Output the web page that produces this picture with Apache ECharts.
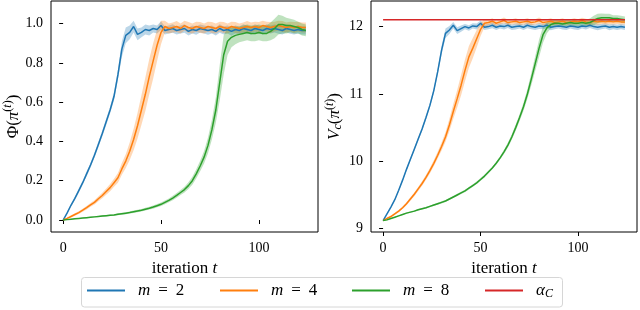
<!DOCTYPE html>
<html><head><meta charset="utf-8">
<script src="https://cdn.jsdelivr.net/npm/echarts@6/dist/echarts.min.js"></script>
<style>html,body{margin:0;padding:0;background:#fff}#c{width:640px;height:310px}</style>
</head><body><div id="c"></div>
<script>
// iteration index (every 2nd iteration)
const T = [0,2,4,6,8,10,12,14,16,18,20,22,24,26,28,30,32,
  34,36,38,40,42,44,46,48,50,52,
  54,56,58,60,62,64,66,68,70,72,
  74,76,78,80,82,84,86,88,90,92,
  94,96,98,100,102,104,106,108,110,112,
  114,116,118,120,122,124];

// Left panel: Phi(pi^(t))
const phiM2 = [0,0.035,0.075,0.11,0.15,0.19,0.235,0.28,0.33,0.385,0.44,0.50,0.56,0.63,0.74,0.87,0.94,
  0.955,0.985,0.945,0.955,0.97,0.965,0.975,0.97,0.99,0.965,
  0.97,0.975,0.965,0.97,0.975,0.96,0.97,0.965,0.975,0.97,
  0.965,0.97,0.96,0.975,0.965,0.97,0.96,0.97,0.965,0.975,
  0.97,0.965,0.975,0.97,0.965,0.975,0.97,0.975,0.97,0.965,
  0.975,0.97,0.965,0.97,0.965,0.965];
const phiM4 = [0,0.008,0.018,0.028,0.038,0.05,0.063,0.077,0.09,0.108,0.125,0.145,0.165,0.19,0.215,0.26,0.30,
  0.35,0.41,0.48,0.56,0.64,0.73,0.81,0.89,0.955,0.985,
  0.975,0.98,0.985,0.975,0.99,0.98,0.975,0.985,0.98,0.975,
  0.985,0.98,0.975,0.985,0.98,0.975,0.985,0.98,0.975,0.98,
  0.985,0.98,0.985,0.98,0.99,0.985,0.98,0.985,0.99,0.985,
  0.98,0.985,0.98,0.985,0.98,0.98];
const phiM8 = [0,0.002,0.004,0.006,0.008,0.01,0.012,0.014,0.016,0.018,0.02,0.022,0.024,0.026,0.029,0.032,0.035,
  0.038,0.042,0.046,0.05,0.055,0.06,0.066,0.073,0.08,0.09,
  0.10,0.112,0.125,0.14,0.155,0.175,0.2,0.235,0.275,0.32,
  0.38,0.46,0.56,0.70,0.84,0.91,0.93,0.94,0.945,0.95,
  0.955,0.95,0.95,0.955,0.95,0.95,0.96,0.975,0.995,0.995,
  0.99,0.99,0.985,0.98,0.97,0.965];
// spread (half band width)
const sPhiM2 = [0,0.005,0.007,0.008,0.01,0.01,0.012,0.012,0.013,0.014,0.015,0.016,0.017,0.02,0.025,0.04,0.04,
  0.035,0.03,0.03,0.025,0.025,0.025,0.02,0.02,0.022,0.02,
  0.02,0.022,0.02,0.02,0.022,0.02,0.02,0.022,0.02,0.02,
  0.022,0.02,0.02,0.022,0.02,0.02,0.022,0.02,0.02,0.022,
  0.02,0.02,0.022,0.02,0.02,0.022,0.02,0.02,0.022,0.02,
  0.02,0.022,0.02,0.02,0.02,0.02];
const sPhiM4 = [0,0.003,0.005,0.006,0.007,0.008,0.009,0.01,0.011,0.012,0.014,0.016,0.018,0.02,0.025,0.03,0.035,
  0.045,0.055,0.065,0.075,0.085,0.09,0.09,0.08,0.06,0.03,
  0.025,0.025,0.028,0.025,0.025,0.028,0.025,0.025,0.028,0.025,
  0.025,0.028,0.025,0.025,0.028,0.025,0.025,0.028,0.025,0.025,
  0.028,0.025,0.025,0.028,0.025,0.025,0.028,0.025,0.025,0.028,
  0.025,0.025,0.028,0.025,0.025,0.025];
const sPhiM8 = [0,0.001,0.001,0.002,0.002,0.002,0.003,0.003,0.003,0.003,0.004,0.004,0.004,0.004,0.005,0.005,0.005,
  0.005,0.006,0.006,0.006,0.007,0.007,0.008,0.008,0.009,0.01,
  0.01,0.011,0.012,0.013,0.015,0.017,0.02,0.023,0.027,0.032,
  0.04,0.05,0.065,0.09,0.1,0.07,0.05,0.045,0.04,0.04,
  0.04,0.04,0.04,0.04,0.04,0.04,0.045,0.05,0.05,0.045,
  0.04,0.035,0.035,0.03,0.03,0.03];

// Right panel: V_c(pi^(t))
const vM2 = [9.12,9.22,9.32,9.43,9.57,9.72,9.88,10.03,10.18,10.33,10.48,10.65,10.83,11.05,11.33,11.65,11.9,
  11.95,12.02,11.94,11.97,12.0,11.98,12.01,12.0,12.05,11.99,
  12.0,12.02,11.99,12.01,12.0,12.02,11.99,12.0,12.01,11.99,
  12.02,12.0,11.99,12.01,12.0,12.02,11.99,12.0,12.01,12.0,
  11.99,12.01,12.0,11.99,12.01,12.0,12.02,12.0,11.99,12.0,
  12.01,11.99,12.0,11.99,12.0,11.99];
const vM4 = [9.12,9.15,9.18,9.22,9.26,9.31,9.37,9.44,9.51,9.59,9.67,9.76,9.86,9.97,10.09,10.22,10.36,
  10.54,10.74,10.93,11.13,11.35,11.55,11.68,11.82,11.96,12.05,
  12.06,12.08,12.05,12.07,12.09,12.06,12.07,12.08,12.06,12.07,
  12.08,12.06,12.07,12.09,12.06,12.07,12.08,12.06,12.07,12.08,
  12.06,12.07,12.08,12.07,12.09,12.07,12.06,12.08,12.07,12.08,
  12.07,12.08,12.07,12.08,12.07,12.07];
const vM8 = [9.12,9.13,9.15,9.17,9.19,9.21,9.23,9.245,9.26,9.28,9.295,9.31,9.33,9.35,9.37,9.39,9.41,
  9.44,9.47,9.5,9.53,9.56,9.6,9.64,9.68,9.73,9.78,
  9.84,9.9,9.97,10.05,10.14,10.24,10.36,10.5,10.65,10.81,
  11.0,11.22,11.45,11.68,11.88,11.98,12.03,12.05,12.05,12.04,
  12.05,12.06,12.05,12.05,12.06,12.05,12.06,12.09,12.12,12.13,
  12.13,12.13,12.12,12.12,12.11,12.1];
const sVM2 = [0,0.01,0.012,0.014,0.016,0.018,0.02,0.022,0.024,0.026,0.028,0.03,0.032,0.035,0.04,0.06,0.07,
  0.06,0.05,0.05,0.045,0.04,0.04,0.04,0.045,0.04,0.04,
  0.04,0.045,0.04,0.04,0.045,0.04,0.04,0.045,0.04,0.04,
  0.045,0.04,0.04,0.045,0.04,0.04,0.045,0.04,0.04,0.045,
  0.04,0.04,0.045,0.04,0.04,0.045,0.04,0.04,0.045,0.04,
  0.04,0.045,0.04,0.04,0.04,0.04];
const sVM4 = [0,0.01,0.012,0.015,0.018,0.02,0.022,0.025,0.028,0.03,0.033,0.036,0.04,0.045,0.05,0.06,0.07,
  0.09,0.11,0.13,0.15,0.16,0.16,0.15,0.13,0.1,0.06,
  0.04,0.045,0.04,0.04,0.045,0.04,0.04,0.045,0.04,0.04,
  0.045,0.04,0.04,0.045,0.04,0.04,0.045,0.04,0.04,0.045,
  0.04,0.04,0.045,0.04,0.04,0.045,0.04,0.04,0.045,0.04,
  0.04,0.045,0.04,0.04,0.04,0.04];
const sVM8 = [0,0.004,0.005,0.006,0.007,0.008,0.008,0.009,0.01,0.01,0.011,0.012,0.012,0.013,0.014,0.015,0.015,
  0.016,0.016,0.017,0.017,0.018,0.018,0.019,0.019,0.02,0.02,
  0.02,0.02,0.022,0.025,0.03,0.035,0.04,0.045,0.05,0.06,
  0.07,0.09,0.11,0.13,0.12,0.08,0.06,0.05,0.05,0.05,
  0.05,0.05,0.05,0.05,0.05,0.05,0.06,0.07,0.07,0.065,
  0.06,0.06,0.05,0.05,0.05,0.05];

const alphaC = 12.1;
const alphaT = [0,124];

const X_TICKS = [0,50,100];
const PHI_TICKS = [0,0.2,0.4,0.6,0.8,1.0];
const V_TICKS = [9,10,11,12];

const NAMES = ['m = 2','m = 4','m = 8','αC'];
const COLORS = ['#1f77b4','#ff7f0e','#2ca02c','#d62728'];

const FONT = 'Liberation Serif';
const chart = echarts.init(document.getElementById('c'), null, {renderer:'canvas'});

function pts(arr){ return T.map((t,i)=>[t, arr[i]]); }
function band(mean, sd, gi, color){
  return {
    type:'custom', xAxisIndex:gi, yAxisIndex:gi, silent:true, z:1, clip:true,
    data:T.map((t,i)=>[t, mean[i]-sd[i], mean[i]+sd[i]]),
    encode:{x:0, y:[1,2]},
    renderItem:function(params, api){
      if (params.dataIndex !== 0) return null;
      const up = [], lo = [];
      for (let i = 0; i < T.length; i++) {
        up.push(api.coord([T[i], mean[i]+sd[i]]));
        lo.push(api.coord([T[i], mean[i]-sd[i]]));
      }
      return {type:'polygon', shape:{points: up.concat(lo.reverse())},
        style:{fill:color, opacity:0.3}};
    }
  };
}
function line(name, arr, gi, color){
  return {type:'line', name:name, xAxisIndex:gi, yAxisIndex:gi, data:pts(arr), symbol:'none',
    lineStyle:{width:1.5, color:color}, itemStyle:{color:color}, z:3};
}

const tickLabel = {fontFamily:FONT, fontSize:14, color:'#000', margin:8};
const tick = {show:true, length:4, inside:false, lineStyle:{color:'#000', width:1}};
const nameRich = {
  r:{fontFamily:FONT, fontSize:17, color:'#000'},
  i:{fontFamily:FONT, fontSize:17, color:'#000', fontStyle:'italic'},
  sub:{fontFamily:FONT, fontSize:12, color:'#000', fontStyle:'italic', padding:[6,0,0,0]},
  sp:{fontFamily:FONT, fontSize:12, color:'#000', padding:[0,0,10,0]},
  si:{fontFamily:FONT, fontSize:12, color:'#000', fontStyle:'italic', padding:[0,0,10,0]}
};

function xAxis(gi){
  return {gridIndex:gi, type:'value', min:-6.2, max:130.2,
    axisLine:{show:false}, splitLine:{show:false},
    axisTick:Object.assign({customValues:X_TICKS}, tick),
    axisLabel:Object.assign({customValues:X_TICKS}, tickLabel, {margin:9}),
    name:'{r|iteration }{i|t}', nameLocation:'middle', nameGap:20,
    nameTextStyle:{rich:nameRich}};
}

const option = {
  animation:false,
  backgroundColor:'#fff',
  grid:[
    {left:51, top:1, width:267, height:231, show:true, borderColor:'#000', borderWidth:1, containLabel:false, outerBoundsMode:'none'},
    {left:371, top:1, width:266, height:231, show:true, borderColor:'#000', borderWidth:1, containLabel:false, outerBoundsMode:'none'}
  ],
  xAxis:[xAxis(0), xAxis(1)],
  yAxis:[
    {gridIndex:0, type:'value', min:-0.061, max:1.115,
     axisLine:{show:false}, splitLine:{show:false},
     axisTick:Object.assign({customValues:PHI_TICKS}, tick),
     axisLabel:Object.assign({customValues:PHI_TICKS, formatter:v=>v.toFixed(1)}, tickLabel),
     name:'{r|Φ(}{i|π}{sp|(}{si|t}{sp|)}{r|)}', nameLocation:'middle', nameGap:25, nameRotate:90,
     nameTextStyle:{rich:nameRich}},
    {gridIndex:1, type:'value', min:8.95, max:12.38,
     axisLine:{show:false}, splitLine:{show:false},
     axisTick:Object.assign({customValues:V_TICKS}, tick),
     axisLabel:Object.assign({customValues:V_TICKS, formatter:v=>String(Math.round(v))}, tickLabel),
     name:'{i|V}{sub|c}{r|(}{i|π}{sp|(}{si|t}{sp|)}{r|)}', nameLocation:'middle', nameGap:25, nameRotate:90,
     nameTextStyle:{rich:nameRich}}
  ],
  legend: NAMES.map((n,k)=>({
    data:[n], left:[87,220,352,485][k], top:282, padding:0, z:5,
    icon:'rect', itemWidth:38, itemHeight:2,
    formatter:function(name){
      if (name === 'αC') return '{i|α}{sub|C}';
      const p = name.split(' = ');
      return '{i|' + p[0] + '}{eq|=}{r|' + p[1] + '}';
    },
    textStyle:{fontFamily:FONT, fontSize:17, color:'#000', rich:{
      i:{fontFamily:FONT, fontSize:17, fontStyle:'italic', color:'#000', padding:[0,0,0,8]},
      eq:{fontFamily:FONT, fontSize:17, color:'#000', padding:[0,8,0,8]},
      r:{fontFamily:FONT, fontSize:17, color:'#000'},
      sub:{fontFamily:FONT, fontSize:12, fontStyle:'italic', color:'#000', padding:[6,0,0,0]}
    }}
  })),
  graphic:[{type:'rect', z:0, silent:true,
    shape:{x:81.5, y:277.5, width:481, height:29.5, r:3},
    style:{fill:'#fff', stroke:'#d6d6d6', lineWidth:1}}],
  series:[
    band(phiM2, sPhiM2, 0, COLORS[0]),
    band(phiM4, sPhiM4, 0, COLORS[1]),
    band(phiM8, sPhiM8, 0, COLORS[2]),
    band(vM2, sVM2, 1, COLORS[0]),
    band(vM4, sVM4, 1, COLORS[1]),
    band(vM8, sVM8, 1, COLORS[2]),
    line(NAMES[0], phiM2, 0, COLORS[0]),
    line(NAMES[1], phiM4, 0, COLORS[1]),
    line(NAMES[2], phiM8, 0, COLORS[2]),
    line(NAMES[0], vM2, 1, COLORS[0]),
    line(NAMES[1], vM4, 1, COLORS[1]),
    line(NAMES[2], vM8, 1, COLORS[2]),
    {type:'line', name:NAMES[3], xAxisIndex:1, yAxisIndex:1,
     data:alphaT.map(t=>[t, alphaC]), symbol:'none',
     lineStyle:{width:1.5, color:COLORS[3]}, itemStyle:{color:COLORS[3]}, z:4}
  ]
};
chart.setOption(option);
</script>
</body></html>
